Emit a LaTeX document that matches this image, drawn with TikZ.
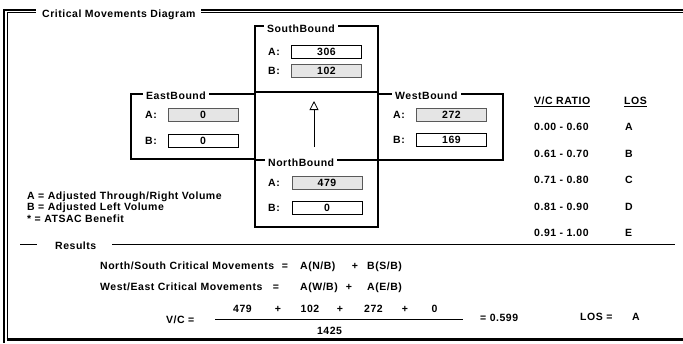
\documentclass[tikz,border=0pt]{standalone}
\usepackage{fontspec}
\setmainfont{Liberation Sans}[LetterSpace=5]
\usetikzlibrary{arrows.meta, positioning, calc}
\tikzset{
  boundbox/.style={draw, line width=2pt, inner sep=0pt},
  boundtitle/.style={fill=white, anchor=west, inner xsep=3pt, inner ysep=2pt},
  fieldbox/.style={draw, line width=0.7pt, minimum width=70pt, minimum height=13pt, inner sep=0pt},
  fieldshade/.style={fieldbox, fill=black!10, draw=black!65},
  txt/.style={anchor=base west, inner sep=0pt},
  sym/.style={anchor=base, inner sep=0pt},
  rule/.style={line width=0.8pt}
}

\begin{document}
\begin{tikzpicture}[x=1pt, y=-1pt, font=\fontsize{10.5}{12.6}\selectfont\bfseries]
\useasboundingbox (0,0) rectangle (683,343);

% 1. Marco exterior (doble linea arriba e izquierda)
\draw[line width=2pt] (683,9.5) -- (4,9.5) -- (4,343);
\draw[line width=1pt] (683,12.5) -- (7.5,12.5) -- (7.5,339);
\draw[line width=3.5pt] (6.5,339.5) -- (683,339.5);
\node[txt, fill=white, inner xsep=6pt, inner ysep=3pt] (frameT) at (36,17) {Critical Movements Diagram};

% 2. Cajas de los accesos
\node[boundbox, minimum width=123pt, minimum height=68pt] (center) at (316.5,126) {};
\node[boundbox, minimum width=123pt, minimum height=66pt] (south) at (316.5,59) {};
\node[boundbox, minimum width=124pt, minimum height=65pt] (east) at (193,126.5) {};
\node[boundbox, minimum width=125pt, minimum height=66pt] (west) at (440.5,127) {};
\node[boundbox, minimum width=123pt, minimum height=67pt] (north) at (316.5,193.5) {};

\node[boundtitle] (southT) at ([xshift=10pt, yshift=-3.5pt]south.north west) {SouthBound};
\node[boundtitle] (eastT) at ([xshift=13pt, yshift=-3pt]east.north west) {EastBound};
\node[boundtitle] (westT) at ([xshift=15pt, yshift=-3pt]west.north west) {WestBound};
\node[boundtitle] (northT) at ([xshift=11pt, yshift=-4pt]north.north west) {NorthBound};

% SouthBound
\node[txt] (southAl) at (268,55.6) {A:};
\node[fieldbox] (southA) at (326.5,52) {306};
\node[txt] (southBl) at (268,74.6) {B:};
\node[fieldshade] (southB) at (326.5,71) {102};

% EastBound
\node[txt] (eastAl) at (145,118.6) {A:};
\node[fieldshade] (eastA) at (203,115) {0};
\node[txt] (eastBl) at (145,144.1) {B:};
\node[fieldbox] (eastB) at (203,140.5) {0};

% WestBound
\node[txt] (westAl) at (393,118.1) {A:};
\node[fieldshade] (westA) at (451.5,114.5) {272};
\node[txt] (westBl) at (393,143.1) {B:};
\node[fieldbox] (westB) at (451.5,139.5) {169};

% NorthBound
\node[txt] (northAl) at (268,186.6) {A:};
\node[fieldshade] (northA) at (327,183) {479};
\node[txt] (northBl) at (268,211.6) {B:};
\node[fieldbox] (northB) at (327,208) {0};

% Flecha central
\coordinate (arrS) at (314,147);
\coordinate (arrE) at (314,101);
\draw[-{Triangle[open, width=9pt, length=9pt]}, line width=0.8pt] (arrS) -- (arrE);

% 3. Leyenda
\node[txt] (legA) at (27,199) {A = Adjusted Through/Right Volume};
\node[txt] (legB) at (27,210.5) {B = Adjusted Left Volume};
\node[txt] (legC) at (27,222) {* = ATSAC Benefit};

% 4. Tabla V/C - LOS
\node[txt] (vcHead) at (534,104.6) {V/C RATIO};
\node[txt] (losHead) at (624,104.6) {LOS};
\draw[rule] ([yshift=-2pt]vcHead.base west) -- ([yshift=-2pt]vcHead.base east);
\draw[rule] ([yshift=-2pt]losHead.base west) -- ([yshift=-2pt]losHead.base east);
\foreach \i/\rng/\los in {1/0.00 - 0.60/A, 2/0.61 - 0.70/B, 3/0.71 - 0.80/C, 4/0.81 - 0.90/D, 5/0.91 - 1.00/E} {
    \node[txt] (rng\i) at (534,104.1+26.5*\i) {\rng};
    \node[txt] (los\i) at (625,104.1+26.5*\i) {\los};
}

% 5. Resultados
\node[txt] (results) at (55,249.6) {Results};
\coordinate (resL) at (20,244.5);
\coordinate (resR) at (675,244.5);
\draw[rule] (resL) -- ($(resL -| results.west)+(-18,0)$);
\draw[rule] ($(resR -| results.east)+(16,0)$) -- (resR);

\node[txt] (nsText) at (100,269.6) {North/South Critical Movements};
\node[sym] (nsEq) at (285,269.6) {=};
\node[txt] (nsA) at (300,269.6) {A(N/B)};
\node[sym] (nsPlus) at (355,269.6) {+};
\node[txt] (nsB) at (367,269.6) {B(S/B)};

\node[txt] (weText) at (100,290.6) {West/East Critical Movements};
\node[sym] (weEq) at (276,290.6) {=};
\node[txt] (weA) at (300,290.6) {A(W/B)};
\node[sym] (wePlus) at (349,290.6) {+};
\node[txt] (weB) at (367,290.6) {A(E/B)};

% Cociente V/C
\node[txt] (vcLabel) at (166,323.1) {V/C =};
\foreach \x/\t [count=\k] in {242.5/479, 278/+, 310/102, 340/+, 373.5/272, 405/+, 434.5/0} {
    \node[sym] (num\k) at (\x,312.1) {\t};
}
\coordinate (fracL) at (215,319);
\coordinate (fracR) at (463,319);
\draw[rule] (fracL) -- (fracR);
\node[sym] (den) at (329.5,334.1) {1425};
\node[txt] (vcVal) at (480,321.6) {= 0.599};
\node[txt] (losLabel) at (580,320.1) {LOS =};
\node[txt] (losVal) at (632,320.1) {A};

\end{tikzpicture}
\end{document}
